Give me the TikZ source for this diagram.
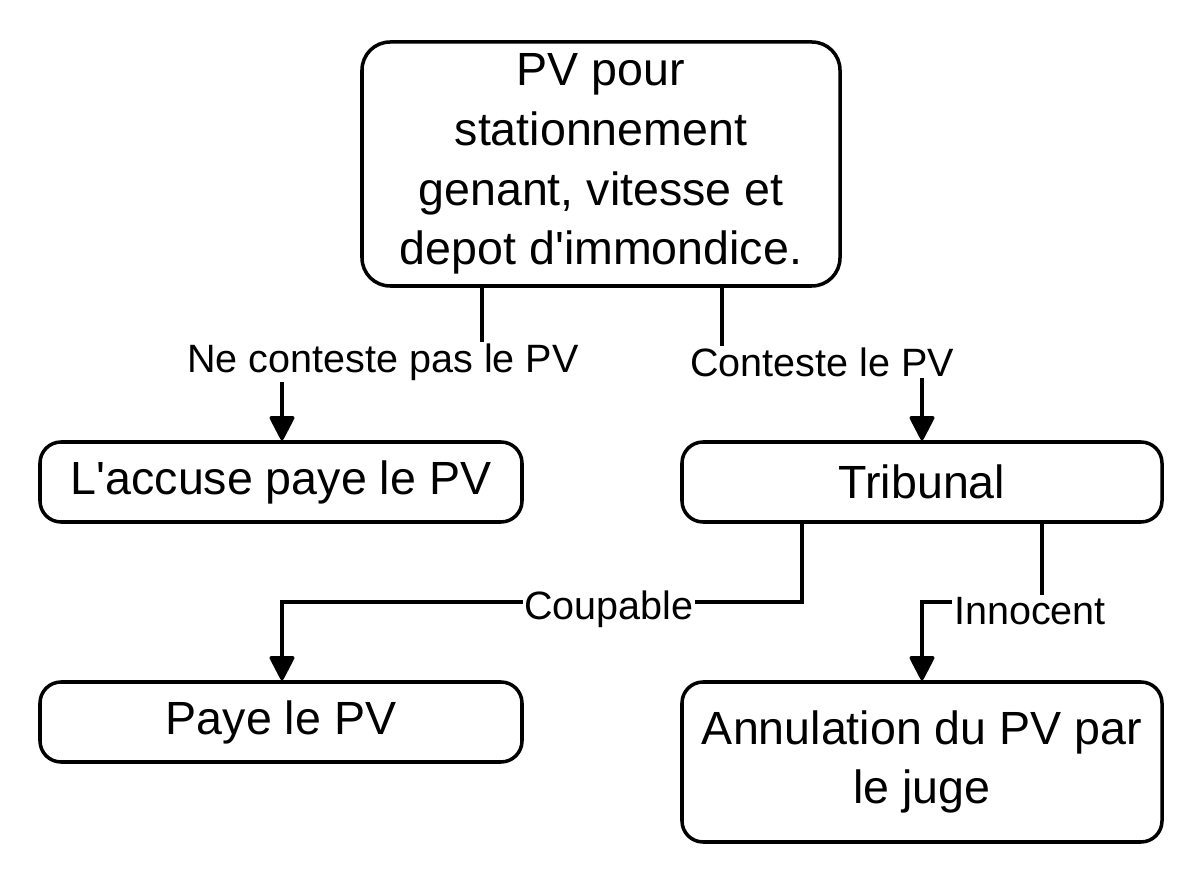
\documentclass[tikz,border=0pt]{standalone}
\usepackage{fontspec}
\setmainfont{Liberation Sans}
\usetikzlibrary{arrows.meta}
\begin{document}
\begin{tikzpicture}[x=0.02cm,y=-0.02cm,
  box/.style={draw,line width=2pt,rounded corners=12pt,align=center,font=\fontsize{26.5}{34}\selectfont,inner sep=0pt},
  lab/.style={fill=white,inner sep=1pt,font=\fontsize{22.5}{26}\selectfont},
  conn/.style={line width=2pt,-{Triangle[length=15pt,width=15pt,round]}}]
\useasboundingbox (0,0) rectangle (1204,884);
\node[box,minimum width=478*0.02cm,minimum height=244*0.02cm,rounded corners=16pt] (top) at (601,164) {PV pour\\stationnement\\genant, vitesse et\\depot d\textquotesingle immondice.};
\node[box,minimum width=482*0.02cm,minimum height=80*0.02cm] (acc) at (281,482) {L\textquotesingle accuse paye le PV};
\node[box,minimum width=480*0.02cm,minimum height=80*0.02cm] (trib) at (922,482) {Tribunal};
\node[box,minimum width=482*0.02cm,minimum height=80*0.02cm] (paye) at (281,722) {Paye le PV};
\node[box,minimum width=480*0.02cm,minimum height=160*0.02cm] (ann) at (922,762) {Annulation du PV par\\le juge};
\draw[conn] (top.south -| 482,0) |- (282,362) -- (acc.north -| 282,0);
\node[lab] (l1) at (383,362) {Ne conteste pas le PV};
\draw[conn] (top.south -| 722,0) |- (922,362) -- (trib.north);
\node[lab] (l2) at (822,362) {Conteste le PV};
\draw[conn] (trib.south -| 802,0) |- (282,602) -- (paye.north -| 282,0);
\node[lab] (l3) at (609,609) {Coupable};
\draw[conn] (trib.south -| 1042,0) |- (922,602) -- (ann.north);
\node[lab] (l4) at (1030,611) {Innocent};
\end{tikzpicture}
\end{document}
